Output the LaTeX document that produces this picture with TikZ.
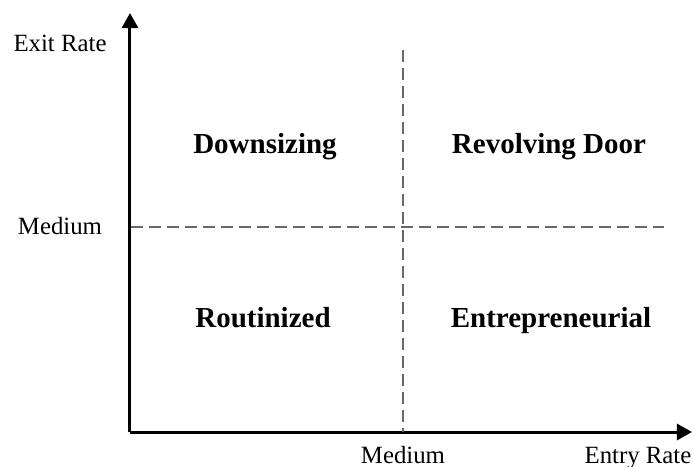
\documentclass[tikz,border=0pt]{standalone}
\usepackage{fontspec}
\setmainfont{Liberation Serif}
\usetikzlibrary{arrows.meta}
\begin{document}
\begin{tikzpicture}[x=0.5pt,y=-0.5pt,
  axis/.style={line width=1.5pt,-{Triangle[length=7.5pt,width=8pt]}},
  divider/.style={line width=1pt,draw=black!60,dash pattern=on 6pt off 3pt},
  axislabel/.style={font=\fontsize{12.4}{14}\selectfont,inner sep=0pt,anchor=base},
  quadrant/.style={font=\fontsize{14.5}{17}\selectfont\bfseries,inner sep=0pt,anchor=base}]
\useasboundingbox (0,0) rectangle (693,467);
% axes
\coordinate (o) at (130,432);
\coordinate (ytip) at (130,13);
\coordinate (xtip) at (692,432);
\draw[axis] (o) -- (ytip);
\draw[axis] (o) -- (xtip);
% medium split lines
\coordinate (vtop) at (403,50);
\coordinate (vbot) at (403,432);
\coordinate (hleft) at (131,227);
\coordinate (hright) at (664,227);
\draw[divider] (vtop) -- (vbot);
\draw[divider] (hleft) -- (hright);
% axis labels (positions are baselines)
\node[axislabel] (ylab) at (60,51) {Exit Rate};
\node[axislabel] (ymed) at (60,234) {Medium};
\node[axislabel] (xmed) at (403,463) {Medium};
\node[axislabel] (xlab) at (638,463) {Entry Rate};
% quadrant names
\node[quadrant] (down) at (265,153) {Downsizing};
\node[quadrant] (rev) at (549,153) {Revolving Door};
\node[quadrant] (rout) at (263,327) {Routinized};
\node[quadrant] (entr) at (551,327) {Entrepreneurial};
\end{tikzpicture}
\end{document}
